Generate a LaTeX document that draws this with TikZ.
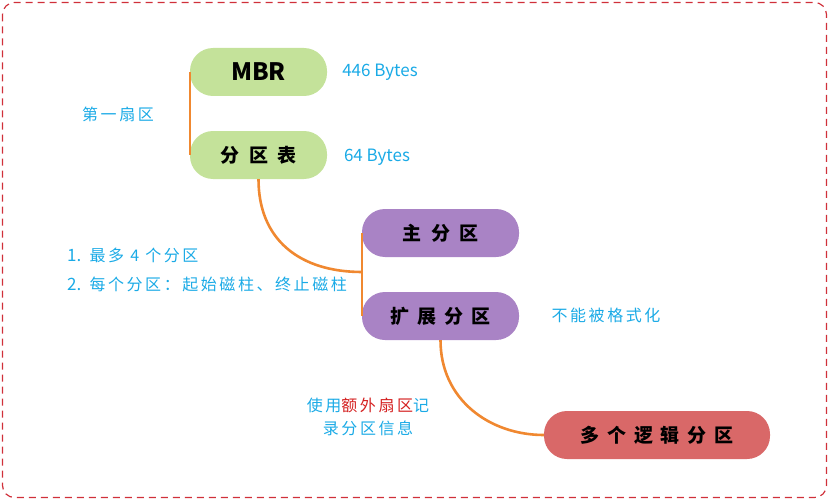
\documentclass[tikz,border=0pt]{standalone}
\usepackage{fontspec}
\setmainfont{Noto Sans CJK SC}
\newfontfamily\cjk{Noto Sans CJK SC}
\newfontfamily\cjkspaced[LetterSpace=16]{Noto Sans CJK SC}
\definecolor{cgreen}{HTML}{C4E29A}
\definecolor{cpurple}{HTML}{A983C5}
\definecolor{cred}{HTML}{D96868}
\definecolor{corange}{HTML}{F08830}
\definecolor{cblue}{HTML}{1AAAE6}
\definecolor{cborder}{HTML}{D0303A}
\definecolor{ctextred}{HTML}{D42020}
\tikzset{
  pill/.style={rounded corners=23pt, minimum height=48pt, inner sep=0pt, font=\cjk\bfseries\fontsize{19}{22}\selectfont, text=black},
  gpill/.style={pill, fill=cgreen, minimum width=137pt},
  ppill/.style={pill, fill=cpurple, minimum width=157pt},
  rpill/.style={pill, fill=cred, minimum width=226pt},
  conn/.style={draw=corange, line width=2.6pt},
  note/.style={text=cblue, font=\cjkspaced\fontsize{16}{23}\selectfont, inner sep=0pt},
  latinnote/.style={text=cblue, font=\cjk\fontsize{17}{20}\selectfont, inner sep=0pt},
}
\begin{document}
\begin{tikzpicture}[x=1pt,y=-1pt]
\useasboundingbox (0,0) rectangle (829,500);
\draw[cborder, line width=1.2pt, dash pattern=on 7pt off 5pt, rounded corners=12pt] (2.5,2.5) rectangle (826.5,497.5);

\node[gpill] (mbr) at (258.5,72) {\fontsize{24}{26}\selectfont MBR};
\node[gpill] (pt) at (258.5,155) {分\hspace{0.5em}区\hspace{0.5em}表};
\node[ppill] (pri) at (440.5,233) {主\hspace{0.5em}分\hspace{0.5em}区};
\node[ppill] (ext) at (440.5,316) {扩\hspace{0.42em}展\hspace{0.42em}分\hspace{0.42em}区};
\node[rpill] (log) at (657,435) {多\hspace{0.42em}个\hspace{0.42em}逻\hspace{0.42em}辑\hspace{0.42em}分\hspace{0.42em}区};

\coordinate (j1) at (362,272);
\draw[conn] (mbr.west) -- (pt.west);
\draw[conn] (pri.west) -- (ext.west);
\draw[conn] (pt.south) .. controls (258.5,240) and (300,272) .. (j1);
\draw[conn] (ext.south) .. controls (440.5,400) and (490,435) .. (log.west);

\node[latinnote] (n1) at (380,72) {446 Bytes};
\node[latinnote] (n2) at (377,157) {64 Bytes};
\node[note] (n3) at (118,114) {第一扇区};
\node[note, anchor=west] (n4) at (67,255) {{\cjk\fontsize{17}{20}\selectfont 1.} 最多 4 个分区};
\node[note, anchor=west] (n5) at (67,284) {{\cjk\fontsize{17}{20}\selectfont 2.} 每个分区：起始磁柱、终止磁柱};
\node[note] (n6) at (606,315) {不能被格式化};
\node[note, align=center] (n7) at (368,416.5) {使用\textcolor{ctextred}{额外扇区}记\\录分区信息};
\end{tikzpicture}
\end{document}
